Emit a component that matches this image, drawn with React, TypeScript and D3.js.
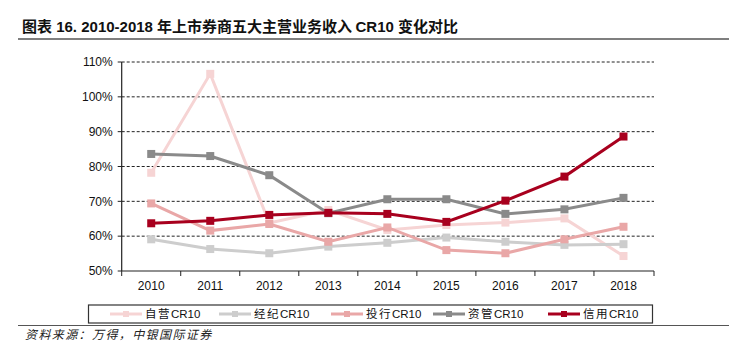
import * as d3 from "d3";

const years = ["2010", "2011", "2012", "2013", "2014", "2015", "2016", "2017", "2018"];

const proprietary = [78.2, 106.6, 63.8, 67.5, 61.8, 63.2, 63.9, 65.1, 54.3];
const brokerage = [59.1, 56.3, 55.1, 57.0, 58.1, 59.6, 58.4, 57.5, 57.7];
const investmentBanking = [69.4, 61.6, 63.5, 58.4, 62.5, 56.0, 55.1, 59.1, 62.7];
const assetManagement = [83.6, 83.0, 77.5, 66.6, 70.6, 70.6, 66.4, 67.7, 71.0];
const credit = [63.7, 64.4, 66.1, 66.7, 66.4, 64.1, 70.2, 77.1, 88.6];

const yTicks = [50, 60, 70, 80, 90, 100, 110];

const series = [
  { name: "自营CR10", values: proprietary, color: "#f6d4d4" },
  { name: "经纪CR10", values: brokerage, color: "#cdcdcd" },
  { name: "投行CR10", values: investmentBanking, color: "#e9a7a7" },
  { name: "资管CR10", values: assetManagement, color: "#8a8a8a" },
  { name: "信用CR10", values: credit, color: "#a8001e" },
];

const WIDTH = 729;
const HEIGHT = 353;
const LATIN = "'Liberation Sans', Arial, sans-serif";
const CJK = "'Noto Sans CJK SC', sans-serif";

export default function App() {
  const left = 121.7;
  const right = 653;
  const top = 62;
  const bottom = 271;

  const x = d3.scaleBand().domain(years).range([left, right]);
  const y = d3.scaleLinear().domain([50, 110]).range([bottom, top]);

  const line = d3
    .line<number>()
    .x((_, i) => (x(years[i]) || 0) + x.bandwidth() / 2)
    .y((d) => y(d));

  // legend item x positions (line start)
  const legendX = [110, 219, 331, 433, 548];

  return (
    <svg
      width={WIDTH}
      height={HEIGHT}
      style={{ position: "absolute", left: 0, top: 0, background: "#fff" }}
    >
      {/* Title */}
      <text x={22} y={32} fontSize={15} fontWeight="bold" fill="#111">
        <tspan fontFamily={CJK}>图表</tspan>
        <tspan fontFamily={LATIN}> 16. 2010-2018 </tspan>
        <tspan fontFamily={CJK}>年上市券商五大主营业务收入 </tspan>
        <tspan fontFamily={LATIN}>CR10 </tspan>
        <tspan fontFamily={CJK}>变化对比</tspan>
      </text>
      <line x1={18} x2={WIDTH} y1={39} y2={39} stroke="#555" strokeWidth={1.5} />

      {/* Grid */}
      {yTicks.slice(1).map((t) => (
        <line
          key={t}
          x1={left}
          x2={right + 1}
          y1={y(t)}
          y2={y(t)}
          stroke="#222"
          strokeWidth={1}
          strokeDasharray="3,2"
        />
      ))}

      {/* Y axis */}
      <line x1={left} x2={left} y1={top} y2={bottom} stroke="#222" strokeWidth={1.2} />
      {yTicks.map((t) => (
        <g key={t}>
          <line x1={left - 4} x2={left} y1={y(t)} y2={y(t)} stroke="#222" />
          <text
            x={left - 9}
            y={y(t)}
            dy="0.35em"
            textAnchor="end"
            fontSize={12}
            fontFamily={LATIN}
            fill="#111"
          >
            {t}%
          </text>
        </g>
      ))}

      {/* X axis */}
      <line x1={left} x2={right + 1} y1={bottom} y2={bottom} stroke="#222" strokeWidth={1.2} />
      {years.map((yr) => (
        <line
          key={yr}
          x1={x(yr) || 0}
          x2={x(yr) || 0}
          y1={bottom}
          y2={bottom + 5}
          stroke="#222"
        />
      ))}
      <line x1={right + 1} x2={right + 1} y1={bottom} y2={bottom + 5} stroke="#222" />
      {years.map((yr) => (
        <text
          key={yr}
          x={(x(yr) || 0) + x.bandwidth() / 2}
          y={290}
          textAnchor="middle"
          fontSize={12}
          fontFamily={LATIN}
          fill="#111"
        >
          {yr}
        </text>
      ))}

      {/* Series */}
      {series.map((s) => (
        <g key={s.name}>
          <path d={line(s.values) || ""} fill="none" stroke={s.color} strokeWidth={3} />
          {s.values.map((v, i) => (
            <rect
              key={i}
              x={(x(years[i]) || 0) + x.bandwidth() / 2 - 4}
              y={y(v) - 4}
              width={8}
              height={8}
              fill={s.color}
            />
          ))}
        </g>
      ))}

      {/* Legend */}
      <rect x={88.5} y={305} width={564} height={18} fill="#fff" stroke="#333" strokeWidth={1.2} />
      {series.map((s, i) => (
        <g key={s.name} transform={`translate(${legendX[i]}, 314)`}>
          <line x1={0} x2={32} y1={0} y2={0} stroke={s.color} strokeWidth={3} />
          <rect x={13} y={-3} width={6} height={6} fill={s.color} />
          <text x={35} y={0} dy="0.35em" fontSize={11.5} fill="#111">
            <tspan fontFamily={CJK} letterSpacing={1.5}>{s.name.slice(0, 2)}</tspan>
            <tspan fontFamily={LATIN}>{s.name.slice(2)}</tspan>
          </text>
        </g>
      ))}
      <line x1={18} x2={WIDTH} y1={325.5} y2={325.5} stroke="#555" strokeWidth={1.2} />

      {/* Source */}
      <text
        x={25}
        y={339}
        fontSize={12}
        fontFamily={CJK}
        fontStyle="italic"
        letterSpacing={1.4}
        fill="#222"
      >
        资料来源：万得，中银国际证券
      </text>
    </svg>
  );
}
